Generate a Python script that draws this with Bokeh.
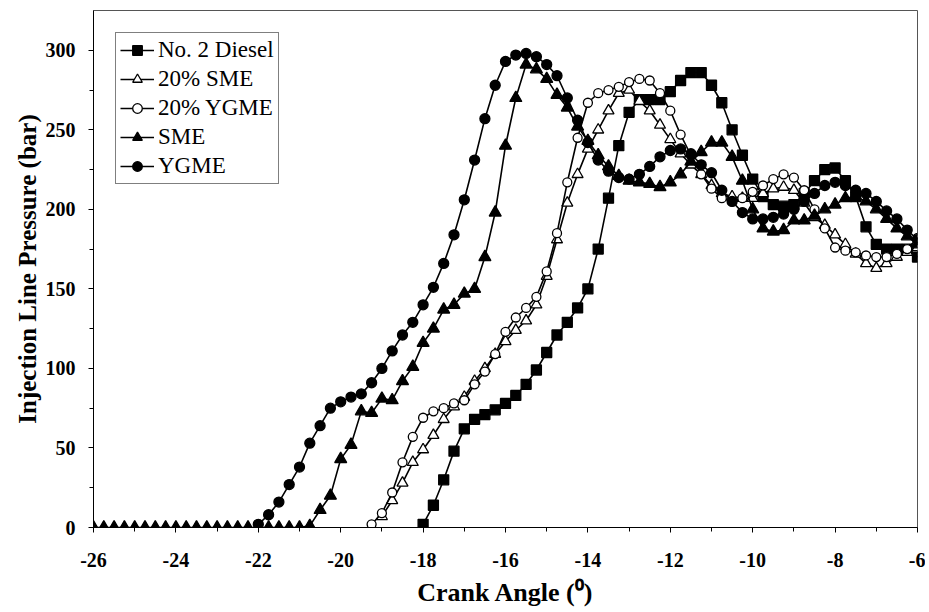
from bokeh.plotting import figure
from bokeh.models import Legend, LegendItem, FixedTicker, ColumnDataSource, Title
from bokeh.embed import file_html
from bokeh.resources import INLINE

# ---------------- data ----------------
STEP = 0.25  # crank-angle spacing of the recorded points (deg)

series_names = ["No. 2 Diesel", "20% SME", "20% YGME", "SME", "YGME"]

diesel_start = -18.0
diesel = [2, 14, 30, 48, 62, 68, 71, 74, 78, 83, 90, 99, 110, 121, 129, 138,
          150, 175, 207, 240, 261, 269, 269, 269, 274, 281, 286, 286, 278,
          267, 250, 234, 219, 208, 203, 202, 203, 210, 218, 225, 226, 218,
          208, 189, 178, 175, 175, 175, 170]

sme20_start = -19.0
sme20 = [7, 17, 28, 41, 49, 58, 68, 76, 82, 92, 100, 109, 117, 124, 130, 140,
         158, 181, 204, 222, 238, 250, 262, 273, 275, 268, 262, 253, 244, 235,
         228, 222, 215, 210, 208, 207, 207, 210, 213, 214, 212, 204, 195, 190,
         184, 178, 172, 166, 163, 166, 170, 173, 176]

ygme20_start = -19.25
ygme20 = [2, 9, 22, 41, 57, 69, 73, 75, 78, 80, 90, 98, 109, 123, 132, 138,
          145, 161, 185, 217, 245, 267, 273, 275, 277, 280, 282, 281, 273, 262,
          247, 234, 222, 213, 207, 205, 207, 211, 215, 219, 222, 220, 212, 200,
          188, 176, 174, 173, 171, 170, 170, 172, 175, 182]

sme_start = -26.0
sme = [0, 0, 0, 0, 0, 0, 0, 0, 0, 0, 0, 0, 0, 0, 0, 0, 0, 0, 0, 0, 0,
       1, 11, 20, 43, 52, 73, 72, 81, 80, 92, 101, 116, 125, 137, 140, 147,
       150, 170, 198, 240, 270, 291, 288, 282, 272, 264, 252, 243, 234, 227,
       221, 218, 217, 216, 214, 217, 222, 230, 236, 242, 242, 233, 218, 200,
       188, 186, 187, 193, 193, 196, 200, 203, 207, 208, 205, 200, 194, 188,
       183, 178]

ygme_start = -22.0
ygme = [2, 8, 16, 27, 38, 53, 64, 75, 79, 82, 84, 91, 100, 111, 121, 129, 140,
        151, 166, 184, 206, 231, 257, 278, 293, 297, 298, 296, 291, 284, 270,
        256, 242, 231, 224, 220, 219, 222, 227, 233, 237, 238, 235, 228, 223,
        212, 205, 198, 194, 194, 195, 197, 200, 205, 210, 215, 217, 215, 212,
        210, 205, 199, 194, 187, 181]

x_ticks = [-26, -24, -22, -20, -18, -16, -14, -12, -10, -8, -6]
x_minor = [-25, -23, -21, -19, -17, -15, -13, -11, -9, -7]
y_ticks = [0, 50, 100, 150, 200, 250, 300]
y_minor = [25, 75, 125, 175, 225, 275]

x_title = "Crank Angle (\u2070)"
y_title = "Injection Line Pressure (bar)"

FONT = "Liberation Serif"

p = figure(width=925, height=612, x_range=(-26, -6), y_range=(0, 325),
           output_backend="svg", toolbar_location=None,
           min_border_left=93, min_border_right=8, min_border_top=10,
           min_border_bottom=82)
p.background_fill_color = "white"
p.border_fill_color = "white"
p.xgrid.visible = False
p.ygrid.visible = False
p.outline_line_color = "#555555"
p.outline_line_width = 1

p.xaxis.ticker = FixedTicker(ticks=x_ticks, minor_ticks=x_minor)
p.yaxis.ticker = FixedTicker(ticks=y_ticks, minor_ticks=y_minor)
p.xaxis.major_label_overrides = {t: str(t) for t in x_ticks}
for ax in (p.xaxis[0], p.yaxis[0]):
    ax.axis_line_color = "black"
    ax.axis_line_width = 1
    ax.major_tick_line_color = "black"
    ax.minor_tick_line_color = "black"
    ax.major_tick_in = 0
    ax.major_tick_out = 5
    ax.minor_tick_in = 0
    ax.minor_tick_out = 4
    ax.major_label_text_font = FONT
    ax.major_label_text_font_style = "bold"
    ax.major_label_text_font_size = "20px"
    ax.major_label_text_color = "black"
p.yaxis.major_label_standoff = 13
p.xaxis.major_label_standoff = 20

p.add_layout(Title(text=y_title, align="center", text_font=FONT,
                   text_font_style="bold", text_font_size="25px",
                   text_color="black", standoff=4), "left")
p.add_layout(Title(text=x_title, align="center", offset=16, text_font=FONT,
                   text_font_style="bold", text_font_size="26px",
                   text_color="black", standoff=12), "below")


def xs_for(start, vals):
    return [start + STEP * i for i in range(len(vals))]


styles = [
    (diesel_start, diesel, "square", 10, "black"),
    (sme20_start, sme20, "triangle", 11, "white"),
    (ygme20_start, ygme20, "circle", 9, "white"),
    (sme_start, sme, "triangle", 12, "black"),
    (ygme_start, ygme, "circle", 10, "black"),
]

items = []
for name, (start, vals, marker, size, fill) in zip(series_names, styles):
    src = ColumnDataSource(dict(x=xs_for(start, vals), y=vals))
    ln = p.line("x", "y", source=src, line_color="black", line_width=1.6)
    sc = p.scatter("x", "y", source=src, marker=marker, size=size,
                   fill_color=fill, line_color="black", line_width=1.3)
    items.append(LegendItem(label=name, renderers=[ln, sc]))

legend = Legend(items=items, location="top_left", margin=22, padding=4,
                spacing=3, glyph_height=24, glyph_width=34, label_standoff=4,
                label_height=24, label_text_font=FONT,
                label_text_font_size="23px", label_text_color="black",
                border_line_color="black", border_line_width=1,
                background_fill_color="white", background_fill_alpha=1)
p.add_layout(legend)

open("out.html", "w").write(file_html(p, INLINE))
